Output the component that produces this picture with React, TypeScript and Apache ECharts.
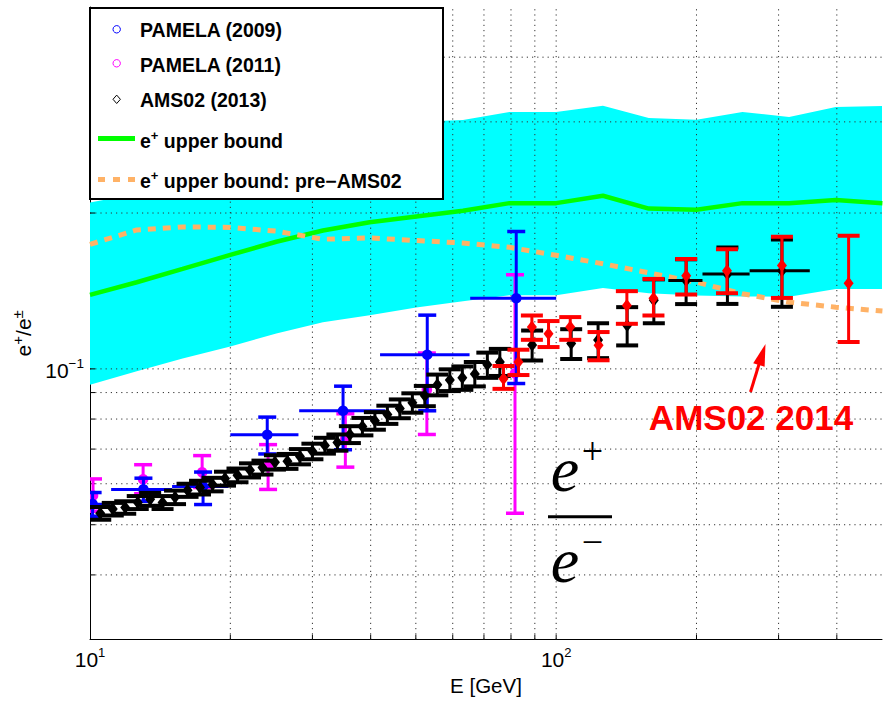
import React, { useEffect, useRef } from 'react';
import * as echarts from 'echarts';

// ---------- axes ----------
const X_MIN = 10;
const X_MAX = 500;
const Y_MIN = 0.03;
const Y_MAX = 0.5;
const xGridValues = [20, 30, 40, 50, 60, 70, 80, 90, 100, 200, 300, 400];
const yGridValues = [0.04, 0.05, 0.06, 0.07, 0.08, 0.09, 0.1, 0.2, 0.3, 0.4];

// ---------- model band and bounds ----------
const bandE = [10, 12.6, 15.8, 20, 25.1, 31.6, 39.8, 50.1, 63.1, 79.4, 100, 126, 158, 200, 251, 316, 398, 501];
const bandLow = [0.0932, 0.099, 0.1047, 0.1105, 0.117, 0.1231, 0.127, 0.1314, 0.1351, 0.1388, 0.1388, 0.1433, 0.14, 0.1386, 0.138, 0.1378, 0.1427, 0.1427];
const bandHigh = [0.2095, 0.218, 0.234, 0.2557, 0.277, 0.292, 0.2985, 0.3, 0.3026, 0.3135, 0.3135, 0.3224, 0.3053, 0.3029, 0.3135, 0.3066, 0.3205, 0.322];
const upperBound = [0.139, 0.147, 0.156, 0.166, 0.176, 0.185, 0.192, 0.197, 0.202, 0.209, 0.209, 0.216, 0.204, 0.203, 0.209, 0.209, 0.212, 0.209];
const upperBoundPre = [0.174, 0.1855, 0.188, 0.1876, 0.1845, 0.178, 0.179, 0.177, 0.175, 0.1717, 0.1657, 0.1596, 0.1533, 0.147, 0.1397, 0.1345, 0.1316, 0.1293];

// ---------- PAMELA (2009) ----------
const pam09E = [10.13, 13.02, 17.48, 24.0, 34.9, 52.9, 82.1];
const pam09F = [0.0548, 0.0585, 0.0593, 0.0746, 0.083, 0.1065, 0.1369];
const pam09Lo = [0.0519, 0.0555, 0.0547, 0.0685, 0.0698, 0.083, 0.0937];
const pam09Hi = [0.0577, 0.0615, 0.0632, 0.0807, 0.0926, 0.127, 0.1842];
const pam09BinLo = [9.3, 11.1, 15.0, 20.0, 28.1, 41.9, 65.4];
const pam09BinHi = [11.04, 15.0, 19.8, 28.0, 43.0, 65.2, 100];

// ---------- PAMELA (2011) ----------
const pam11E = [10.15, 13.0, 17.4, 24.1, 35.3, 52.8, 81.6];
const pam11F = [0.0569, 0.0612, 0.0631, 0.0648, 0.0733, 0.0911, 0.098];
const pam11Lo = [0.0531, 0.0574, 0.059, 0.0585, 0.0646, 0.0747, 0.0526];
const pam11Hi = [0.0613, 0.0653, 0.068, 0.0714, 0.0819, 0.1073, 0.152];

// ---------- AMS02 (2013) ----------
const ams13E = [10.52, 11.19, 11.9, 12.66, 13.46, 14.31, 15.22, 16.19, 17.22, 18.32, 19.48, 20.72, 22.04, 23.44, 24.93, 26.52, 28.21, 30.0, 31.91, 33.94, 36.1, 38.4, 40.84, 43.44, 46.2, 49.15, 52.27, 55.6, 59.14, 62.91, 66.91, 71.18, 75.71, 88.8, 107.7, 123, 142, 162, 190, 233, 305];
const ams13F = [0.0526, 0.0536, 0.054, 0.0552, 0.056, 0.0552, 0.0565, 0.0583, 0.059, 0.0598, 0.0614, 0.0623, 0.0637, 0.0645, 0.066, 0.0663, 0.0677, 0.0693, 0.0711, 0.0721, 0.0747, 0.0774, 0.0794, 0.0816, 0.0838, 0.086, 0.0887, 0.0932, 0.0952, 0.0961, 0.0978, 0.1018, 0.1031, 0.1112, 0.1119, 0.1137, 0.1213, 0.1357, 0.1481, 0.1525, 0.1548];
const ams13Err = [0.0015, 0.0015, 0.0015, 0.0016, 0.0016, 0.0016, 0.0017, 0.0017, 0.0018, 0.0018, 0.0019, 0.0019, 0.002, 0.002, 0.0021, 0.0022, 0.0023, 0.0024, 0.0025, 0.0026, 0.0028, 0.003, 0.0031, 0.0033, 0.0035, 0.0037, 0.004, 0.0043, 0.0046, 0.005, 0.0053, 0.0057, 0.0062, 0.0074, 0.0074, 0.0088, 0.0103, 0.0132, 0.0147, 0.019, 0.023];
const ams13BinLo = [0, 0, 0, 0, 0, 0, 0, 0, 0, 0, 0, 0, 0, 0, 0, 0, 0, 0, 0, 0, 0, 0, 0, 0, 0, 0, 0, 0, 0, 0, 0, 0, 0, 0, 0, 0, 0, 0, 174, 206, 260];
const ams13BinHi = [0, 0, 0, 0, 0, 0, 0, 0, 0, 0, 0, 0, 0, 0, 0, 0, 0, 0, 0, 0, 0, 0, 0, 0, 0, 0, 0, 0, 0, 0, 0, 0, 0, 0, 0, 0, 0, 0, 206, 260, 350];

// ---------- AMS02 2014 ----------
const ams14E = [77.1, 83.0, 88.7, 96.3, 107.2, 123.3, 141.8, 161.7, 190.1, 232.5, 305, 424];
const ams14F = [0.0957, 0.1031, 0.1205, 0.1169, 0.1205, 0.1111, 0.1326, 0.1369, 0.1514, 0.1548, 0.1583, 0.1463];
const ams14Lo = [0.0915, 0.0973, 0.1138, 0.1102, 0.1138, 0.1039, 0.1222, 0.1268, 0.1392, 0.14, 0.1371, 0.1127];
const ams14Hi = [0.1013, 0.1089, 0.1268, 0.1237, 0.1259, 0.1178, 0.1413, 0.1492, 0.163, 0.1703, 0.18, 0.1808];

const FONT = 'Liberation Sans, Arial, Helvetica, sans-serif';
const SERIF = 'Liberation Serif, Times New Roman, serif';

type Marker = 'circle' | 'diamond';

function errorSeries(
  name: string,
  E: number[], F: number[], lo: number[], hi: number[],
  binLo: number[] | null, binHi: number[] | null,
  color: string, marker: Marker, capHalf: number, lw: number, capLw: number, z: number
) {
  const data = E.map((e, i) => [e, F[i], lo[i], hi[i], binLo ? binLo[i] : 0, binHi ? binHi[i] : 0]);
  return {
    type: 'custom',
    name,
    coordinateSystem: 'cartesian2d',
    clip: true,
    silent: true,
    z,
    encode: { x: 0, y: 1 },
    data,
    renderItem: (params: any, api: any) => {
      const x = api.value(0);
      const y = api.value(1);
      const yl = api.value(2);
      const yh = api.value(3);
      const xl = api.value(4);
      const xh = api.value(5);
      const c = api.coord([x, y]);
      const pl = api.coord([x, yl]);
      const ph = api.coord([x, yh]);
      const children: any[] = [];
      children.push({ type: 'line', shape: { x1: c[0], y1: pl[1], x2: c[0], y2: ph[1] }, style: { stroke: color, lineWidth: lw } });
      children.push({ type: 'line', shape: { x1: c[0] - capHalf, y1: pl[1], x2: c[0] + capHalf, y2: pl[1] }, style: { stroke: color, lineWidth: capLw } });
      children.push({ type: 'line', shape: { x1: c[0] - capHalf, y1: ph[1], x2: c[0] + capHalf, y2: ph[1] }, style: { stroke: color, lineWidth: capLw } });
      if (xl > 0 && xh > 0) {
        const a = api.coord([xl, y]);
        const b = api.coord([xh, y]);
        children.push({ type: 'line', shape: { x1: a[0], y1: c[1], x2: b[0], y2: c[1] }, style: { stroke: color, lineWidth: lw } });
      }
      if (marker === 'circle') {
        children.push({ type: 'circle', shape: { cx: c[0], cy: c[1], r: 5.3 }, style: { fill: color } });
      } else {
        children.push({
          type: 'polygon',
          shape: { points: [[c[0], c[1] - 6.5], [c[0] + 5, c[1]], [c[0], c[1] + 6.5], [c[0] - 5, c[1]]] },
          style: { fill: color },
        });
      }
      return { type: 'group', children };
    },
  };
}

function buildOption() {
  const bandSeries = {
    type: 'custom',
    coordinateSystem: 'cartesian2d',
    clip: true,
    silent: true,
    z: 1,
    encode: { x: 0, y: 1 },
    data: bandE.map((e, i) => [e, bandLow[i], bandHigh[i]]),
    renderItem: (params: any, api: any) => {
      if (params.dataIndex !== 0) return null;
      const pts: number[][] = [];
      for (let i = 0; i < bandE.length; i++) pts.push(api.coord([bandE[i], bandHigh[i]]));
      for (let i = bandE.length - 1; i >= 0; i--) pts.push(api.coord([bandE[i], bandLow[i]]));
      return { type: 'polygon', shape: { points: pts }, style: { fill: '#00FFFF' } };
    },
  };

  const xGridSeries = {
    type: 'custom',
    coordinateSystem: 'cartesian2d',
    clip: false,
    silent: true,
    z: 2,
    encode: { x: 0, y: 1 },
    data: xGridValues.map((v) => [v, Y_MIN]),
    renderItem: (params: any, api: any) => {
      const v = api.value(0);
      const a = api.coord([v, Y_MIN]);
      const b = api.coord([v, Y_MAX]);
      return {
        type: 'group',
        children: [
          { type: 'line', shape: { x1: a[0], y1: a[1], x2: b[0], y2: b[1] }, style: { stroke: '#333', lineWidth: 1, lineDash: [1.2, 4] } },
          { type: 'line', shape: { x1: a[0], y1: a[1], x2: a[0], y2: a[1] - 5 }, style: { stroke: '#000', lineWidth: 1 } },
        ],
      };
    },
  };

  const yGridSeries = {
    type: 'custom',
    coordinateSystem: 'cartesian2d',
    clip: false,
    silent: true,
    z: 2,
    encode: { x: 0, y: 1 },
    data: yGridValues.map((v) => [X_MIN, v]),
    renderItem: (params: any, api: any) => {
      const v = api.value(1);
      const a = api.coord([X_MIN, v]);
      const b = api.coord([X_MAX, v]);
      return {
        type: 'group',
        children: [
          { type: 'line', shape: { x1: a[0], y1: a[1], x2: b[0], y2: b[1] }, style: { stroke: '#333', lineWidth: 1, lineDash: [1.2, 4] } },
          { type: 'line', shape: { x1: a[0], y1: a[1], x2: a[0] + 5, y2: a[1] }, style: { stroke: '#000', lineWidth: 1 } },
        ],
      };
    },
  };

  const greenLine = {
    type: 'line',
    name: 'e+ upper bound',
    data: bandE.map((e, i) => [e, upperBound[i]]),
    symbol: 'none',
    silent: true,
    z: 3,
    lineStyle: { color: '#00FF00', width: 4.5 },
  };
  const orangeLine = {
    type: 'line',
    name: 'e+ upper bound: pre-AMS02',
    data: bandE.map((e, i) => [e, upperBoundPre[i]]),
    symbol: 'none',
    silent: true,
    z: 3,
    lineStyle: { color: '#FFB266', width: 5, type: [8, 7], cap: 'butt' },
  };

  const supRich = (base: number, sup: number, lh: number, supLh: number, weight = 'normal') => ({
    a: { fontSize: base, lineHeight: lh, verticalAlign: 'bottom', fontFamily: FONT, color: '#000', fontWeight: weight },
    s: { fontSize: sup, lineHeight: supLh, verticalAlign: 'top', fontFamily: FONT, color: '#000', fontWeight: weight },
  });

  const legendRich = supRich(19.5, 13, 22, 9, 'bold');
  const legendText = (text: string, y: number) => ({
    type: 'text', z: 101, x: 140, y,
    style: { text, fontSize: 19.5, fontWeight: 'bold', fontFamily: FONT, fill: '#000', align: 'left', verticalAlign: 'middle' },
  });

  const graphics: any[] = [
    { type: 'rect', z: 100, shape: { x: 90, y: 8, width: 353, height: 191 }, style: { fill: '#fff', stroke: '#000', lineWidth: 2 } },
    { type: 'circle', z: 101, shape: { cx: 116.7, cy: 29.3, r: 3.7 }, style: { fill: 'none', stroke: '#0000FF', lineWidth: 1 } },
    { type: 'circle', z: 101, shape: { cx: 116.7, cy: 63.3, r: 3.7 }, style: { fill: 'none', stroke: '#FF00FF', lineWidth: 1 } },
    { type: 'polygon', z: 101, shape: { points: [[116.7, 95.1], [120.4, 99.3], [116.7, 103.5], [113, 99.3]] }, style: { fill: 'none', stroke: '#000', lineWidth: 1 } },
    { type: 'line', z: 101, shape: { x1: 98, y1: 138.5, x2: 135, y2: 138.5 }, style: { stroke: '#00FF00', lineWidth: 5 } },
    { type: 'line', z: 101, shape: { x1: 98, y1: 179.5, x2: 135, y2: 179.5 }, style: { stroke: '#FFB266', lineWidth: 5, lineDash: [7, 8] } },
    legendText('PAMELA (2009)', 29.5),
    legendText('PAMELA (2011)', 64.5),
    legendText('AMS02 (2013)', 100),
    { type: 'text', z: 101, x: 140, y: 139.5, style: { text: '{a|e}{s|+}{a| upper bound}', rich: legendRich, align: 'left', verticalAlign: 'middle' } },
    { type: 'text', z: 101, x: 140, y: 180, style: { text: '{a|e}{s|+}{a| upper bound: pre\u2212AMS02}', rich: legendRich, align: 'left', verticalAlign: 'middle' } },
    // annotation
    { type: 'text', z: 101, x: 751, y: 417, style: { text: 'AMS02 2014', fontSize: 35, fontWeight: 'bold', fontFamily: FONT, fill: '#FF0000', align: 'center', verticalAlign: 'middle' } },
    { type: 'line', z: 101, shape: { x1: 750.5, y1: 392, x2: 760, y2: 361 }, style: { stroke: '#FF0000', lineWidth: 3 } },
    { type: 'polygon', z: 101, shape: { points: [[765.5, 344], [753.2, 363.2], [764.6, 366.8]] }, style: { fill: '#FF0000' } },
    // e+/e- fraction
    { type: 'text', z: 101, x: 565, y: 469, style: { text: 'e', fontSize: 64, fontStyle: 'italic', fontFamily: SERIF, fill: '#000', align: 'center', verticalAlign: 'middle' } },
    { type: 'text', z: 101, x: 592.5, y: 451, style: { text: '+', fontSize: 38, fontFamily: SERIF, fill: '#000', align: 'center', verticalAlign: 'middle' } },
    { type: 'rect', z: 101, shape: { x: 548, y: 515.2, width: 64, height: 3 }, style: { fill: '#000' } },
    { type: 'text', z: 101, x: 565, y: 560.5, style: { text: 'e', fontSize: 64, fontStyle: 'italic', fontFamily: SERIF, fill: '#000', align: 'center', verticalAlign: 'middle' } },
    { type: 'text', z: 101, x: 592.5, y: 542, style: { text: '\u2212', fontSize: 38, fontFamily: SERIF, fill: '#000', align: 'center', verticalAlign: 'middle' } },
  ];

  return {
    animation: false,
    backgroundColor: '#fff',
    grid: { left: 90, right: 8, top: 7, bottom: 58, containLabel: false },
    xAxis: {
      type: 'log',
      logBase: 10,
      min: X_MIN,
      max: X_MAX,
      name: 'E [GeV]',
      nameLocation: 'middle',
      nameGap: 25,
      nameTextStyle: { fontSize: 20.5, fontFamily: FONT, color: '#000' },
      axisLine: { show: true, onZero: false, lineStyle: { color: '#000', width: 1 } },
      axisTick: { show: false },
      splitLine: { show: false },
      axisLabel: {
        margin: 6.5,
        showMaxLabel: false,
        formatter: (v: number) => {
          const p = Math.round(Math.log10(v));
          if (Math.abs(Math.log10(v) - p) > 1e-6 || (p !== 1 && p !== 2)) return '';
          return '{a|10}{s|' + p + '}';
        },
        rich: supRich(21, 13, 24, 4),
      },
    },
    yAxis: {
      type: 'log',
      logBase: 10,
      min: Y_MIN,
      max: Y_MAX,
      name: '{a|e}{s|+}{a|/e}{s|\u00b1}',
      nameLocation: 'middle',
      nameGap: 55,
      nameTextStyle: { padding: [0, 20, 0, 0], rich: supRich(21, 15, 24, 8) },
      axisLine: { show: true, lineStyle: { color: '#000', width: 1 } },
      axisTick: { show: false },
      splitLine: { show: false },
      axisLabel: {
        margin: 6,
        showMinLabel: false,
        showMaxLabel: false,
        formatter: (v: number) => {
          const l = Math.log10(v);
          if (Math.abs(l + 1) > 1e-6) return '';
          return '{a|10}{s|\u22121}';
        },
        rich: supRich(21, 13.5, 24, 10),
      },
    },
    graphic: { elements: graphics },
    series: [
      bandSeries,
      xGridSeries,
      yGridSeries,
      greenLine,
      orangeLine,
      errorSeries('PAMELA (2011)', pam11E, pam11F, pam11Lo, pam11Hi, null, null, '#FF00FF', 'circle', 9, 3, 3.5, 4),
      errorSeries('PAMELA (2009)', pam09E, pam09F, pam09Lo, pam09Hi, pam09BinLo, pam09BinHi, '#0000FF', 'circle', 9, 3, 3.5, 5),
      errorSeries(
        'AMS02 (2013)', ams13E, ams13F,
        ams13E.map((_, i) => ams13F[i] - ams13Err[i]),
        ams13E.map((_, i) => ams13F[i] + ams13Err[i]),
        ams13BinLo, ams13BinHi, '#000000', 'diamond', 11, 3, 4, 6
      ),
      errorSeries('AMS02 2014', ams14E, ams14F, ams14Lo, ams14Hi, null, null, '#FF0000', 'diamond', 11, 3, 4, 7),
    ],
  };
}

export default function App() {
  const ref = useRef<HTMLDivElement>(null);
  useEffect(() => {
    if (!ref.current) return;
    const chart = echarts.init(ref.current, null, { renderer: 'svg' });
    chart.setOption(buildOption() as any);
    return () => {
      chart.dispose();
    };
  }, []);
  return <div ref={ref} style={{ position: 'absolute', left: 0, top: 0, width: 890, height: 701 }} />;
}
